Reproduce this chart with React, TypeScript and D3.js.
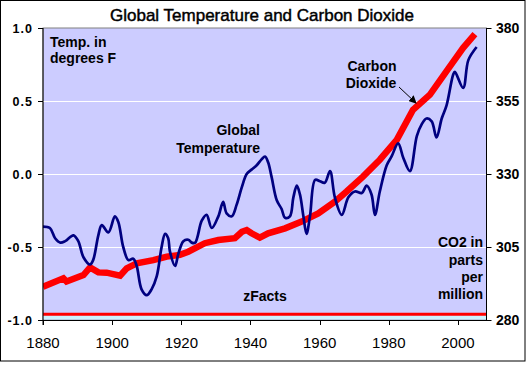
import React from "react";
import * as d3 from "d3";

// ---- Data ----
const tempYears = [1880, 1882, 1883.5, 1885, 1886.4, 1888.8, 1890.2, 1891.7, 1893.6, 1894.5, 1896, 1897, 1898.9, 1900.8, 1901.8, 1903.2, 1904.7, 1906.1, 1907.1, 1908.5, 1910, 1911.4, 1912.9, 1914.3, 1915.3, 1916.2, 1916.7, 1918.2, 1919.1, 1920.6, 1922, 1923, 1924, 1925.9, 1927.3, 1928.8, 1930.7, 1932.1, 1933.1, 1934.6, 1936, 1937.5, 1938.9, 1940.3, 1941.8, 1943.2, 1944.2, 1945.1, 1946.1, 1947.6, 1949, 1950, 1951.4, 1952.4, 1953.4, 1954.3, 1955.3, 1956.2, 1957.2, 1958.7, 1960.1, 1961.5, 1963, 1964.4, 1966.4, 1968.3, 1970.2, 1972.2, 1973.6, 1975, 1976, 1977.4, 1979.4, 1980.8, 1982.7, 1984.2, 1986.1, 1988.1, 1989.5, 1990.9, 1992.4, 1993.8, 1995.3, 1996.7, 1998.6, 1999.1, 2001.5, 2003, 2005.4];
const tempValues = [-0.36, -0.37, -0.44, -0.47, -0.46, -0.42, -0.46, -0.57, -0.62, -0.59, -0.42, -0.35, -0.4, -0.29, -0.33, -0.5, -0.59, -0.58, -0.63, -0.79, -0.83, -0.79, -0.7, -0.5, -0.41, -0.44, -0.53, -0.63, -0.55, -0.46, -0.45, -0.47, -0.47, -0.32, -0.28, -0.37, -0.29, -0.19, -0.27, -0.29, -0.21, -0.09, 0.0, 0.03, 0.06, 0.1, 0.12, 0.08, -0.02, -0.18, -0.24, -0.3, -0.29, -0.16, -0.08, -0.14, -0.29, -0.41, -0.29, -0.04, -0.05, -0.06, 0.02, -0.16, -0.28, -0.16, -0.12, -0.13, -0.08, -0.14, -0.28, -0.12, 0.06, 0.12, 0.21, 0.11, 0.02, 0.26, 0.34, 0.38, 0.36, 0.25, 0.38, 0.47, 0.68, 0.7, 0.59, 0.78, 0.87];

const co2Years = [1880, 1885.9, 1886.8, 1891.7, 1893.6, 1896, 1898.4, 1902.3, 1904.2, 1907.1, 1911.9, 1915.8, 1919.6, 1922, 1926.8, 1930.7, 1935.5, 1937.5, 1938.9, 1940.3, 1942.7, 1945.1, 1950, 1954.8, 1959.6, 1964.4, 1967.8, 1972.6, 1977.4, 1982.3, 1987, 1991.9, 1996.7, 2001.5, 2004.9];
const co2Values = [291.4, 294.3, 293.2, 295.4, 298, 296.3, 296.2, 295.2, 297.7, 299.4, 300.5, 301.7, 302.3, 303.4, 306.3, 307.4, 308, 310.2, 310.8, 309.7, 308.2, 309.7, 311.4, 313.7, 316.5, 320.5, 324, 329.2, 334.9, 341.7, 352, 357.2, 365.2, 373.2, 377.9];

const xTicks = [1880, 1900, 1920, 1940, 1960, 1980, 2000];
const tempTicks = [1.0, 0.5, 0.0, -0.5, -1.0];
const co2Ticks = [380, 355, 330, 305, 280];
const baselineTemp = -0.96;

const title = "Global Temperature and Carbon Dioxide";

export default function App() {
  const W = 526, H = 377;
  const L = 43, R = 486.5, T = 28, B = 320;
  const x = d3.scaleLinear().domain([1880, 2008.25]).range([L, R]);
  const yT = d3.scaleLinear().domain([-1, 1]).range([B, T]);
  const yC = d3.scaleLinear().domain([280, 380]).range([B, T]);

  const tempPts: [number, number][] = tempYears.map((yr, i) => [x(yr), yT(tempValues[i])]);
  const co2Pts: [number, number][] = co2Years.map((yr, i) => [x(yr), yC(co2Values[i])]);
  const tempLine = d3.line().curve(d3.curveCatmullRom.alpha(0.5))(tempPts) || "";
  const co2Line = d3.line()(co2Pts) || "";

  const font = "'Liberation Sans', Arial, sans-serif";
  const ann = { fontFamily: font, fontSize: 14, fontWeight: 700, fill: "#000" } as const;

  return (
    <svg width={W} height={H} style={{ position: "absolute", left: 0, top: 0 }}>
      <defs>
        <clipPath id="plotclip">
          <rect x={L} y={T} width={R - L} height={B - T} />
        </clipPath>
        <marker id="arr" markerWidth="8" markerHeight="8" refX="7" refY="4" orient="auto" markerUnits="userSpaceOnUse">
          <path d="M0,0 L8,4 L0,8 Z" fill="#000" />
        </marker>
      </defs>
      <rect x={0} y={0} width={W} height={H} fill="#fff" />
      <rect x={0.5} y={0.5} width={524.5} height={360.5} fill="#fff" stroke="#000" />
      <text x={262} y={21} textAnchor="middle" stroke="#000" strokeWidth={0.45} style={{ fontFamily: font, fontSize: 17 }}>{title}</text>

      {/* plot area */}
      <rect x={L} y={T} width={R - L} height={B - T} fill="#CCCCFF" stroke="#808080" />
      <rect x={L + 0.5} y={yT(baselineTemp) + 1} width={R - L - 1} height={B - yT(baselineTemp) - 1.5} fill="#CCF2FF" />
      {tempTicks.filter(t => t > -1 && t < 1).map(t => (
        <line key={t} x1={L} x2={R} y1={Math.round(yT(t)) + 0.5} y2={Math.round(yT(t)) + 0.5} stroke="#fff" strokeWidth={1} />
      ))}
      <line x1={L} x2={R} y1={yT(baselineTemp)} y2={yT(baselineTemp)} stroke="#FF0000" strokeWidth={3} />

      <g clipPath="url(#plotclip)">
        <path d={co2Line} fill="none" stroke="#FF0000" strokeWidth={6.5} strokeLinejoin="miter" />
        <path d={tempLine} fill="none" stroke="#000080" strokeWidth={2.7} strokeLinejoin="round" />
      </g>

      {/* axes */}
      <line x1={L} x2={L} y1={T} y2={B + 5} stroke="#000" />
      <line x1={R} x2={R} y1={T} y2={B} stroke="#000" />
      <line x1={L - 5} x2={R + 4} y1={B + 0.5} y2={B + 0.5} stroke="#000" />
      {tempTicks.map(t => (
        <g key={"lt" + t}>
          <line x1={L - 5} x2={L} y1={Math.round(yT(t)) + 0.5} y2={Math.round(yT(t)) + 0.5} stroke="#000" />
          <text x={33} y={yT(t) + 4.5} textAnchor="end" style={{ fontFamily: font, fontSize: 12.5, fontWeight: 700, letterSpacing: 1 }}>{t.toFixed(1)}</text>
        </g>
      ))}
      {co2Ticks.map(t => (
        <g key={"rt" + t}>
          <line x1={R} x2={R + 5} y1={Math.round(yC(t)) + 0.5} y2={Math.round(yC(t)) + 0.5} stroke="#000" />
          <text x={496} y={yC(t) + 5} style={{ fontFamily: font, fontSize: 14, fontWeight: 700 }}>{t}</text>
        </g>
      ))}
      {xTicks.map(t => (
        <g key={"xt" + t}>
          <line x1={Math.round(x(t)) + 0.5} x2={Math.round(x(t)) + 0.5} y1={B} y2={B + 5} stroke="#000" />
          <text x={x(t)} y={348} textAnchor="middle" style={{ fontFamily: font, fontSize: 15 }}>{t}</text>
        </g>
      ))}

      {/* annotations */}
      <text x={50} y={46.5} style={ann}>Temp. in</text>
      <text x={50} y={63} style={ann}>degrees F</text>
      <text x={260} y={135} textAnchor="end" style={ann}>Global</text>
      <text x={260} y={153} textAnchor="end" style={ann}>Temperature</text>
      <text x={372} y={71} textAnchor="middle" style={ann}>Carbon</text>
      <text x={371} y={88} textAnchor="middle" style={ann}>Dioxide</text>
      <line x1={399} y1={87} x2={416} y2={103} stroke="#000" strokeWidth={1} markerEnd="url(#arr)" />
      <text x={483} y={247} textAnchor="end" style={ann}>CO2 in</text>
      <text x={483} y={264.5} textAnchor="end" style={ann}>parts</text>
      <text x={483} y={282} textAnchor="end" style={ann}>per</text>
      <text x={483} y={299} textAnchor="end" style={ann}>million</text>
      <text x={265} y={301} textAnchor="middle" style={ann}>zFacts</text>
    </svg>
  );
}
